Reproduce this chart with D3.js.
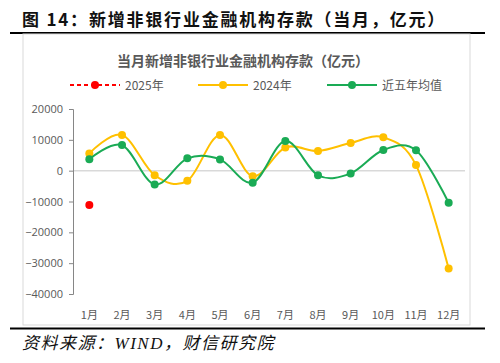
<!DOCTYPE html>
<html><head><meta charset="utf-8">
<script src="https://cdn.jsdelivr.net/npm/d3@7"></script>
<style>body{margin:0;background:#fff}svg{display:block}</style>
</head><body>
<svg id="c" width="500" height="363"></svg>
<script>
const months = ["1月","2月","3月","4月","5月","6月","7月","8月","9月","10月","11月","12月"];
const yTicks = [20000,10000,0,-10000,-20000,-30000,-40000];
const s2025 = [-11100];
const s2024 = [5600,11600,-1500,-3300,11600,-1800,7500,6400,9000,10800,1800,-31700];
const sAvg = [3700,8300,-4500,4000,3650,-3900,9600,-1500,-900,6700,6600,-10400];
const seriesNames = ["2025年","2024年","近五年均值"];
const colors = {r:"#FF0000", y:"#FFC000", g:"#1AAB55"};

const svg = d3.select("#c");
const cjk = "'Noto Sans CJK SC','Noto Sans',sans-serif";

// heading
svg.append("text").attr("x",22).attr("y",26).attr("font-family",cjk).attr("font-weight","bold")
  .attr("font-size",17).attr("letter-spacing",1.8).attr("fill","#111").text("图 14：新增非银行业金融机构存款（当月，亿元）");
svg.append("line").attr("x1",10).attr("x2",485).attr("y1",33).attr("y2",33).attr("stroke","#000").attr("stroke-width",2);
// chart frame
svg.append("rect").attr("x",23).attr("y",34).attr("width",447).attr("height",291).attr("fill","#fff").attr("stroke","#D9D9D9");
svg.append("line").attr("x1",10).attr("x2",485).attr("y1",328.5).attr("y2",328.5).attr("stroke","#000").attr("stroke-width",2);
svg.append("text").attr("x",22).attr("y",349).attr("font-family","'Liberation Serif',"+cjk).attr("font-style","italic")
  .attr("font-size",17).attr("letter-spacing",1.5).attr("fill","#111").text("资料来源：WIND，财信研究院");

// inner title
svg.append("text").attr("x",243).attr("y",66).attr("text-anchor","middle").attr("font-family",cjk).attr("font-weight","bold")
  .attr("font-size",14).attr("fill","#595959").text("当月新增非银行业金融机构存款（亿元）");

const x = d3.scaleBand().domain(months).range([73,465]);
const y = d3.scaleLinear().domain([-40000,20000]).range([294,109]);
const cx = m => x(m) + x.bandwidth()/2;

// zero line
svg.append("line").attr("x1",73).attr("x2",465).attr("y1",y(0)).attr("y2",y(0)).attr("stroke","#D9D9D9").attr("stroke-width",1.5);

// y axis
const ya = svg.append("g").attr("transform","translate(73,0)")
  .call(d3.axisLeft(y).tickValues(yTicks).tickSize(4).tickPadding(6).tickFormat(d3.format("d")));
ya.select(".domain").attr("stroke","#868686");
ya.selectAll(".tick line").attr("stroke","#868686");
ya.selectAll("text").attr("font-family","'Open Sans','Noto Sans',sans-serif").attr("font-size",11).attr("fill","#595959");

// x axis labels
const xa = svg.append("g").attr("transform","translate(0,294)")
  .call(d3.axisBottom(x).tickSize(0).tickPadding(17));
xa.select(".domain").remove();
xa.selectAll("text").attr("font-family",cjk).attr("font-size",11).attr("fill","#595959");

const line = d3.line().x((d,i)=>cx(months[i])).y(d=>y(d)).curve(d3.curveCatmullRom.alpha(0));

function drawSeries(data,color,dash){
  svg.append("path").datum(data).attr("d",line).attr("fill","none").attr("stroke",color).attr("stroke-width",2)
    .attr("stroke-dasharray",dash||null);
  svg.append("g").selectAll("circle").data(data).join("circle")
    .attr("cx",(d,i)=>cx(months[i])).attr("cy",d=>y(d)).attr("r",4).attr("fill",color);
}
drawSeries(s2024,colors.y);
drawSeries(sAvg,colors.g);
drawSeries(s2025,colors.r,"4,3");

// legend
const leg = [{n:seriesNames[0],c:colors.r,x:70,dash:"4,3"},{n:seriesNames[1],c:colors.y,x:198},{n:seriesNames[2],c:colors.g,x:327}];
const lg = svg.append("g");
leg.forEach(l=>{
  lg.append("line").attr("x1",l.x).attr("x2",l.x+50).attr("y1",85).attr("y2",85).attr("stroke",l.c).attr("stroke-width",2)
    .attr("stroke-dasharray",l.dash||null);
  lg.append("circle").attr("cx",l.x+25).attr("cy",85).attr("r",4).attr("fill",l.c);
  lg.append("text").attr("x",l.x+55).attr("y",89.5).attr("font-family",cjk).attr("font-size",12).attr("fill","#595959").text(l.n);
});
</script>
</body></html>
